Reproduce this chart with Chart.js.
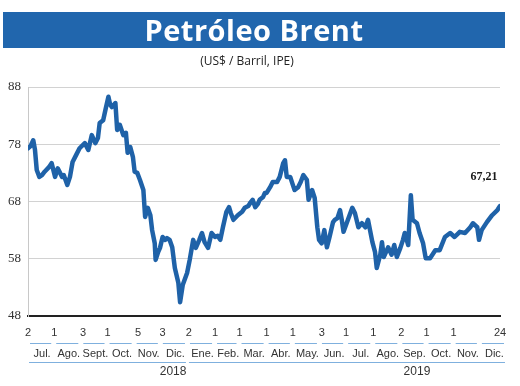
<!DOCTYPE html>
<html>
<head>
<meta charset="utf-8">
<script src="https://cdn.jsdelivr.net/npm/chart.js@4.4.1/dist/chart.umd.min.js"></script>
<style>
  html, body { margin: 0; padding: 0; background: #fff; }
  #wrap { position: relative; width: 520px; height: 386px; overflow: hidden; }
  #brentChart { position: absolute; left: 0; top: 0; }
  .title-bar {
    position: absolute; left: 3px; top: 12px; width: 502px; height: 36px;
    background: #2166ad; color: #fff; text-align: center;
    font: bold 29px "Open Sans", sans-serif; line-height: 36px; letter-spacing: 0.5px;
  }
  .subtitle {
    position: absolute; left: 0; top: 52px; width: 494px; text-align: center;
    font: 12px "Open Sans", sans-serif; color: #222;
  }
</style>
</head>
<body>
<div id="wrap">
  <canvas id="brentChart" width="520" height="386"></canvas>
  <div class="title-bar">Petróleo Brent</div>
  <div class="subtitle">(US$ / Barril, IPE)</div>
</div>
<script>
// === Data (days counted from 2 Jul 2018, Brent in US$ per barrel) ===
const startDate = Date.UTC(2018, 6, 2);

const days = [
  0, 3, 6, 8, 10, 13, 16, 19, 24, 27, 31, 34, 39, 41, 45, 48, 51, 55, 59, 65,
  69, 73, 77, 80, 82, 86, 89, 92, 94, 96, 100, 102, 105, 109, 112, 114, 117, 120, 122, 125,
  128, 132, 134, 137, 140, 142, 145, 146, 149, 151, 154, 157, 159, 162, 165, 168, 172, 174, 177, 182,
  185, 189, 192, 196, 199, 202, 206, 210, 214, 217, 220, 223, 227, 230, 232, 235, 240, 245, 248, 252,
  254, 257, 260, 263, 265, 269, 271, 273, 277, 280, 285, 288, 292, 294, 296, 300, 303, 305, 309, 312,
  315, 319, 321, 325, 328, 331, 333, 336, 339, 342, 345, 349, 351, 354, 357, 359, 361, 366, 371, 374,
  378, 382, 386, 389, 394, 397, 399, 403, 405, 407, 412, 416, 419, 422, 426, 429, 431, 435, 438, 440,
  445, 448, 452, 455, 460, 466, 471, 477, 483, 488, 494, 500, 506, 509, 514, 516, 519, 525, 531, 537,
  540
];

const brent = [
  77.3, 77.7, 78.7, 77.0, 73.5, 72.3, 72.6, 73.2, 74.0, 74.7, 72.3, 73.8, 72.3, 72.6, 70.9, 72.3, 74.9, 76.1, 77.3, 78.2,
  77.0, 79.6, 78.2, 79.1, 81.7, 82.2, 84.3, 86.3, 84.9, 84.5, 85.2, 80.5, 81.4, 79.6, 80.0, 76.5, 77.5, 75.8, 73.2, 73.0,
  71.8, 70.0, 65.3, 66.9, 65.6, 63.0, 60.7, 57.8, 59.2, 59.9, 61.8, 61.3, 61.6, 61.3, 60.0, 56.4, 53.8, 50.4, 53.4, 55.5,
  57.8, 61.3, 59.9, 61.3, 62.5, 60.9, 59.9, 62.5, 61.8, 62.0, 61.3, 63.5, 66.2, 67.0, 66.0, 64.8, 65.6, 66.2, 66.9, 67.2,
  67.7, 68.3, 67.0, 67.6, 68.3, 68.8, 69.5, 69.5, 70.5, 71.4, 71.4, 72.3, 74.7, 75.2, 72.3, 72.3, 70.9, 70.0, 70.5, 71.4,
  72.6, 71.8, 68.3, 70.0, 68.6, 63.5, 61.3, 60.7, 63.0, 60.0, 61.8, 64.4, 64.8, 65.1, 66.5, 64.8, 62.7, 64.8, 66.9, 66.0,
  63.5, 64.2, 63.5, 64.8, 60.9, 59.2, 56.4, 58.7, 60.9, 58.3, 60.0, 58.7, 60.4, 58.3, 59.9, 61.3, 62.5, 60.4, 69.1, 64.8,
  64.2, 62.5, 60.7, 58.1, 58.1, 59.5, 59.5, 61.8, 62.5, 61.8, 62.7, 62.5, 63.5, 64.2, 63.5, 61.3, 63.0, 64.4, 65.6, 66.5,
  67.21
];

const lastLabel = '67,21';

// first quoted date of each month, plus the last day shown
const dayTicks = [
  '2018-07-02', '2018-08-01', '2018-09-03', '2018-10-01', '2018-11-05', '2018-12-03',
  '2019-01-02', '2019-02-01', '2019-03-01', '2019-04-01', '2019-05-01', '2019-06-03',
  '2019-07-01', '2019-08-01', '2019-09-02', '2019-10-01', '2019-11-01', '2019-12-24'
];

const monthNames = ['Jul.', 'Ago.', 'Sept.', 'Oct.', 'Nov.', 'Dic.', 'Ene.', 'Feb.', 'Mar.',
  'Abr.', 'May.', 'Jun.', 'Jul.', 'Ago.', 'Sep.', 'Oct.', 'Nov.', 'Dic.'];

const years = ['2018', '2019'];
const yTicks = [48, 58, 68, 78, 88];

// === helpers ===
const dayOf = (y, m, d) => (Date.UTC(y, m, d) - startDate) / 86400000;
const dayOfStr = s => dayOf(+s.slice(0, 4), +s.slice(5, 7) - 1, +s.slice(8, 10));

// === Bottom date axis (day numbers, months, years) ===
const dateAxisPlugin = {
  id: 'dateAxis',
  afterDraw(chart) {
    const { ctx, chartArea, scales: { x } } = chart;
    const base = chartArea.bottom;
    ctx.save();
    ctx.font = '11px "Liberation Sans Narrow", "Liberation Sans", sans-serif';
    ctx.fillStyle = '#333';
    ctx.textAlign = 'center';
    ctx.textBaseline = 'middle';

    dayTicks.forEach(s => {
      ctx.fillText(String(+s.slice(8, 10)), x.getPixelForValue(dayOfStr(s)), base + 17);
    });

    ctx.strokeStyle = '#7fb0de';
    ctx.lineWidth = 1;
    monthNames.forEach((name, i) => {
      const y = 2018 + Math.floor((6 + i) / 12);
      const m = (6 + i) % 12;
      const a = x.getPixelForValue(dayOf(y, m, 1));
      const b = x.getPixelForValue(dayOf(y, m + 1, 1));
      const left = Math.max(a, chartArea.left) + 2;
      ctx.beginPath();
      ctx.moveTo(left, base + 27.5);
      ctx.lineTo(b - 3, base + 27.5);
      ctx.stroke();
      ctx.fillText(name, (left + b) / 2, base + 38);
    });

    years.forEach((yr, i) => {
      const y = +yr;
      const a = Math.max(x.getPixelForValue(dayOf(y, 0, 1)), chartArea.left) + 1;
      const b = x.getPixelForValue(dayOf(y + 1, 0, 1)) - 2;
      ctx.beginPath();
      ctx.moveTo(a, base + 46.5);
      ctx.lineTo(Math.min(b, chartArea.right + 10), base + 46.5);
      ctx.stroke();
      // year label sits under Dec / Sep like the original
      const labelDay = i === 0 ? dayOf(2018, 11, 15) : dayOf(2019, 8, 20);
      ctx.font = '12px "Liberation Sans Narrow", "Liberation Sans", sans-serif';
      ctx.fillText(yr, x.getPixelForValue(labelDay), base + 56);
      ctx.font = '11px "Liberation Sans Narrow", "Liberation Sans", sans-serif';
    });

    // last value label
    const meta = chart.getDatasetMeta(0);
    const lastPt = meta.data[meta.data.length - 1];
    ctx.font = 'bold 12px "Liberation Serif", serif';
    ctx.fillStyle = '#1a1a1a';
    ctx.fillText(lastLabel, lastPt.x - 16, lastPt.y - 29);
    ctx.restore();
  }
};

document.addEventListener('DOMContentLoaded', function () {
  const ctx = document.getElementById('brentChart');
  new Chart(ctx, {
    type: 'line',
    data: {
      datasets: [{
        data: days.map((d, i) => ({ x: d, y: brent[i] })),
        borderColor: '#1f62a8',
        borderWidth: 4.5,
        pointRadius: 0,
        tension: 0,
        borderJoinStyle: 'round',
        borderCapStyle: 'round'
      }]
    },
    options: {
      responsive: false,
      animation: false,
      devicePixelRatio: 1,
      layout: { padding: { top: 87, right: 20, bottom: 70, left: 0 } },
      plugins: { legend: { display: false }, tooltip: { enabled: false } },
      scales: {
        x: {
          type: 'linear',
          min: 0,
          max: 540,
          ticks: { display: false },
          grid: { display: false, drawTicks: false },
          border: { display: true, color: '#222', width: 2 },
          afterFit: s => { s.height = 0; }
        },
        y: {
          min: 48,
          max: 88,
          afterBuildTicks: s => { s.ticks = yTicks.map(v => ({ value: v })); },
          ticks: {
            padding: 7,
            color: '#333',
            font: { family: '"Liberation Serif", serif', size: 13 }
          },
          grid: { color: '#d2d2d2', lineWidth: 1, drawTicks: false },
          border: { display: true, color: '#c8c8c8' },
          afterFit: s => { s.width = 28; }
        }
      }
    },
    plugins: [dateAxisPlugin]
  });
});
</script>
</body>
</html>
